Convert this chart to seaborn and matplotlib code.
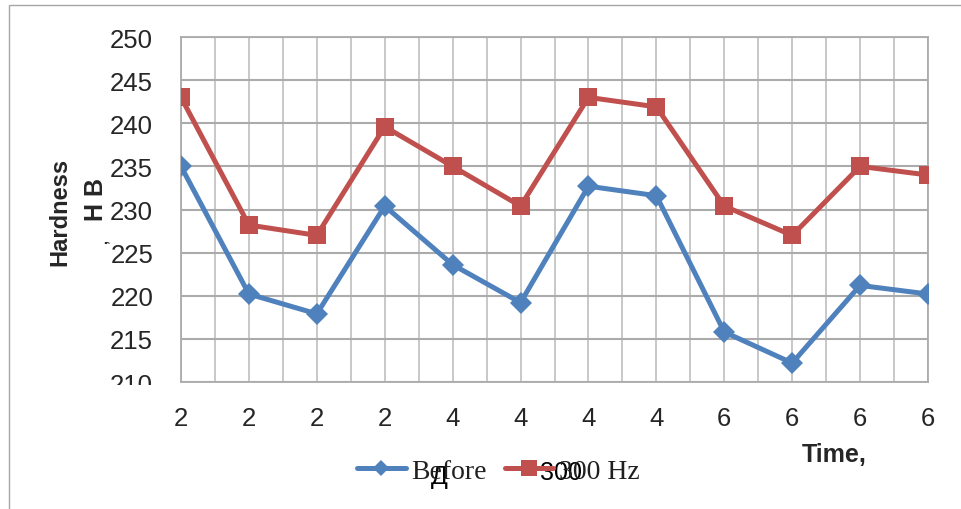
import numpy as np
import pandas as pd
import matplotlib
matplotlib.use("Agg")
import matplotlib.pyplot as plt
from matplotlib.lines import Line2D
from matplotlib.patches import Rectangle
import seaborn as sns

# Données
time_labels = ["2", "2", "2", "2", "4", "4", "4", "4", "6", "6", "6", "6"]
before = [235.0, 220.2, 217.9, 230.4, 223.6, 219.2, 232.7, 231.6, 215.8, 212.2, 221.2, 220.2]
hz300 = [243.0, 228.2, 227.0, 239.6, 235.0, 230.4, 243.0, 241.9, 230.4, 227.0, 235.0, 234.0]
series_names = ["Before", "300 Hz"]
y_ticks = [210, 215, 220, 225, 230, 235, 240, 245, 250]

BLUE = "#4F81BD"
RED = "#C0504D"
GRID = "#ABABAB"

sns.set_style("white")
plt.rcParams["font.family"] = ["Liberation Sans", "DejaVu Sans"]

pos = np.arange(len(time_labels))
df = pd.DataFrame({
    "pos": np.concatenate([pos, pos]),
    "value": before + hz300,
    "series": [series_names[0]] * len(pos) + [series_names[1]] * len(pos),
})

fig = plt.figure(figsize=(9.61, 5.10), dpi=100)
ax = fig.add_axes([181 / 961, 1 - 383 / 510, (928 - 181) / 961, (383 - 38) / 510])

sns.lineplot(
    data=df, x="pos", y="value", hue="series", style="series",
    palette={series_names[0]: BLUE, series_names[1]: RED},
    markers={series_names[0]: "D", series_names[1]: "s"},
    dashes=False, linewidth=3.6, markeredgewidth=0,
    legend=False, ax=ax, zorder=3,
)
# tailles des marqueurs différentes selon la série
for line, ms in zip(ax.get_lines(), [11, 13]):
    line.set_markersize(ms)

ax.set_xlim(0, 11)
ax.set_ylim(210, 250)
ax.set_xticks(pos)
ax.set_xticks(np.arange(0.5, 11, 0.5), minor=True)
ax.set_xticklabels(time_labels)
ax.set_yticks(y_ticks)
ax.set_yticklabels([str(v) for v in y_ticks])
ax.tick_params(axis="both", which="both", length=0)
ax.tick_params(axis="y", pad=20, labelsize=18.5)
ax.tick_params(axis="x", pad=17, labelsize=18.5)
ax.set_xlabel("")
ax.set_ylabel("")

ax.grid(True, axis="x", which="both", color="#C4C4C4", linewidth=1.3)
ax.grid(True, axis="y", which="major", color=GRID, linewidth=1.5)
for s in ax.spines.values():
    s.set_color(GRID)
    s.set_linewidth(1.3)

# étiquette 210 tronquée comme sur l'original
for lab in ax.get_yticklabels():
    if lab.get_text() == "210":
        lab.set_clip_on(True)
        lab.set_clip_path(Rectangle((0, 1 - 386 / 510), 1, 1, transform=fig.transFigure))

# Titres des axes
fig.text(60 / 961, 1 - 212 / 510, "Hardness", rotation=90, ha="center", va="center",
         fontsize=17, fontweight="bold")
fig.text(96 / 961, 1 - 200 / 510, "H B", rotation=90, ha="center", va="center",
         fontsize=18, fontweight="bold")
fig.text(103 / 961, 1 - 242 / 510, ",", rotation=90, ha="center", va="center",
         fontsize=10, fontweight="bold")
fig.text(834 / 961, 1 - 455 / 510, "Time,", ha="center", va="center",
         fontsize=18, fontweight="bold")

# Légende
handles = [
    Line2D([], [], color=BLUE, lw=3.6, marker="D", markersize=8, markeredgewidth=0),
    Line2D([], [], color=RED, lw=3.6, marker="s", markersize=11, markeredgewidth=0),
]
leg = fig.legend(
    handles, series_names, loc="center left",
    bbox_to_anchor=(357 / 961, 1 - 472 / 510), ncol=2, frameon=False,
    borderpad=0, borderaxespad=0, handlelength=1.75, handletextpad=0.2,
    columnspacing=0.65, prop={"family": "Liberation Serif", "size": 20},
)
for t in leg.get_texts():
    t.set_color("#202020")
fig.text(439 / 961, 1 - 477 / 510, "Д", ha="center", va="center",
         fontsize=18, color="black")
fig.text(561 / 961, 1 - 473 / 510, "300", ha="center", va="center",
         fontsize=18, color="black")

# cadre extérieur
fig.add_artist(Rectangle((9 / 961, -0.1), 1.2, 1 - 6 / 510 + 0.1, transform=fig.transFigure,
                         fill=False, edgecolor="#A6A6A6", linewidth=1, clip_on=False))

fig.savefig("out.png", dpi=100)
